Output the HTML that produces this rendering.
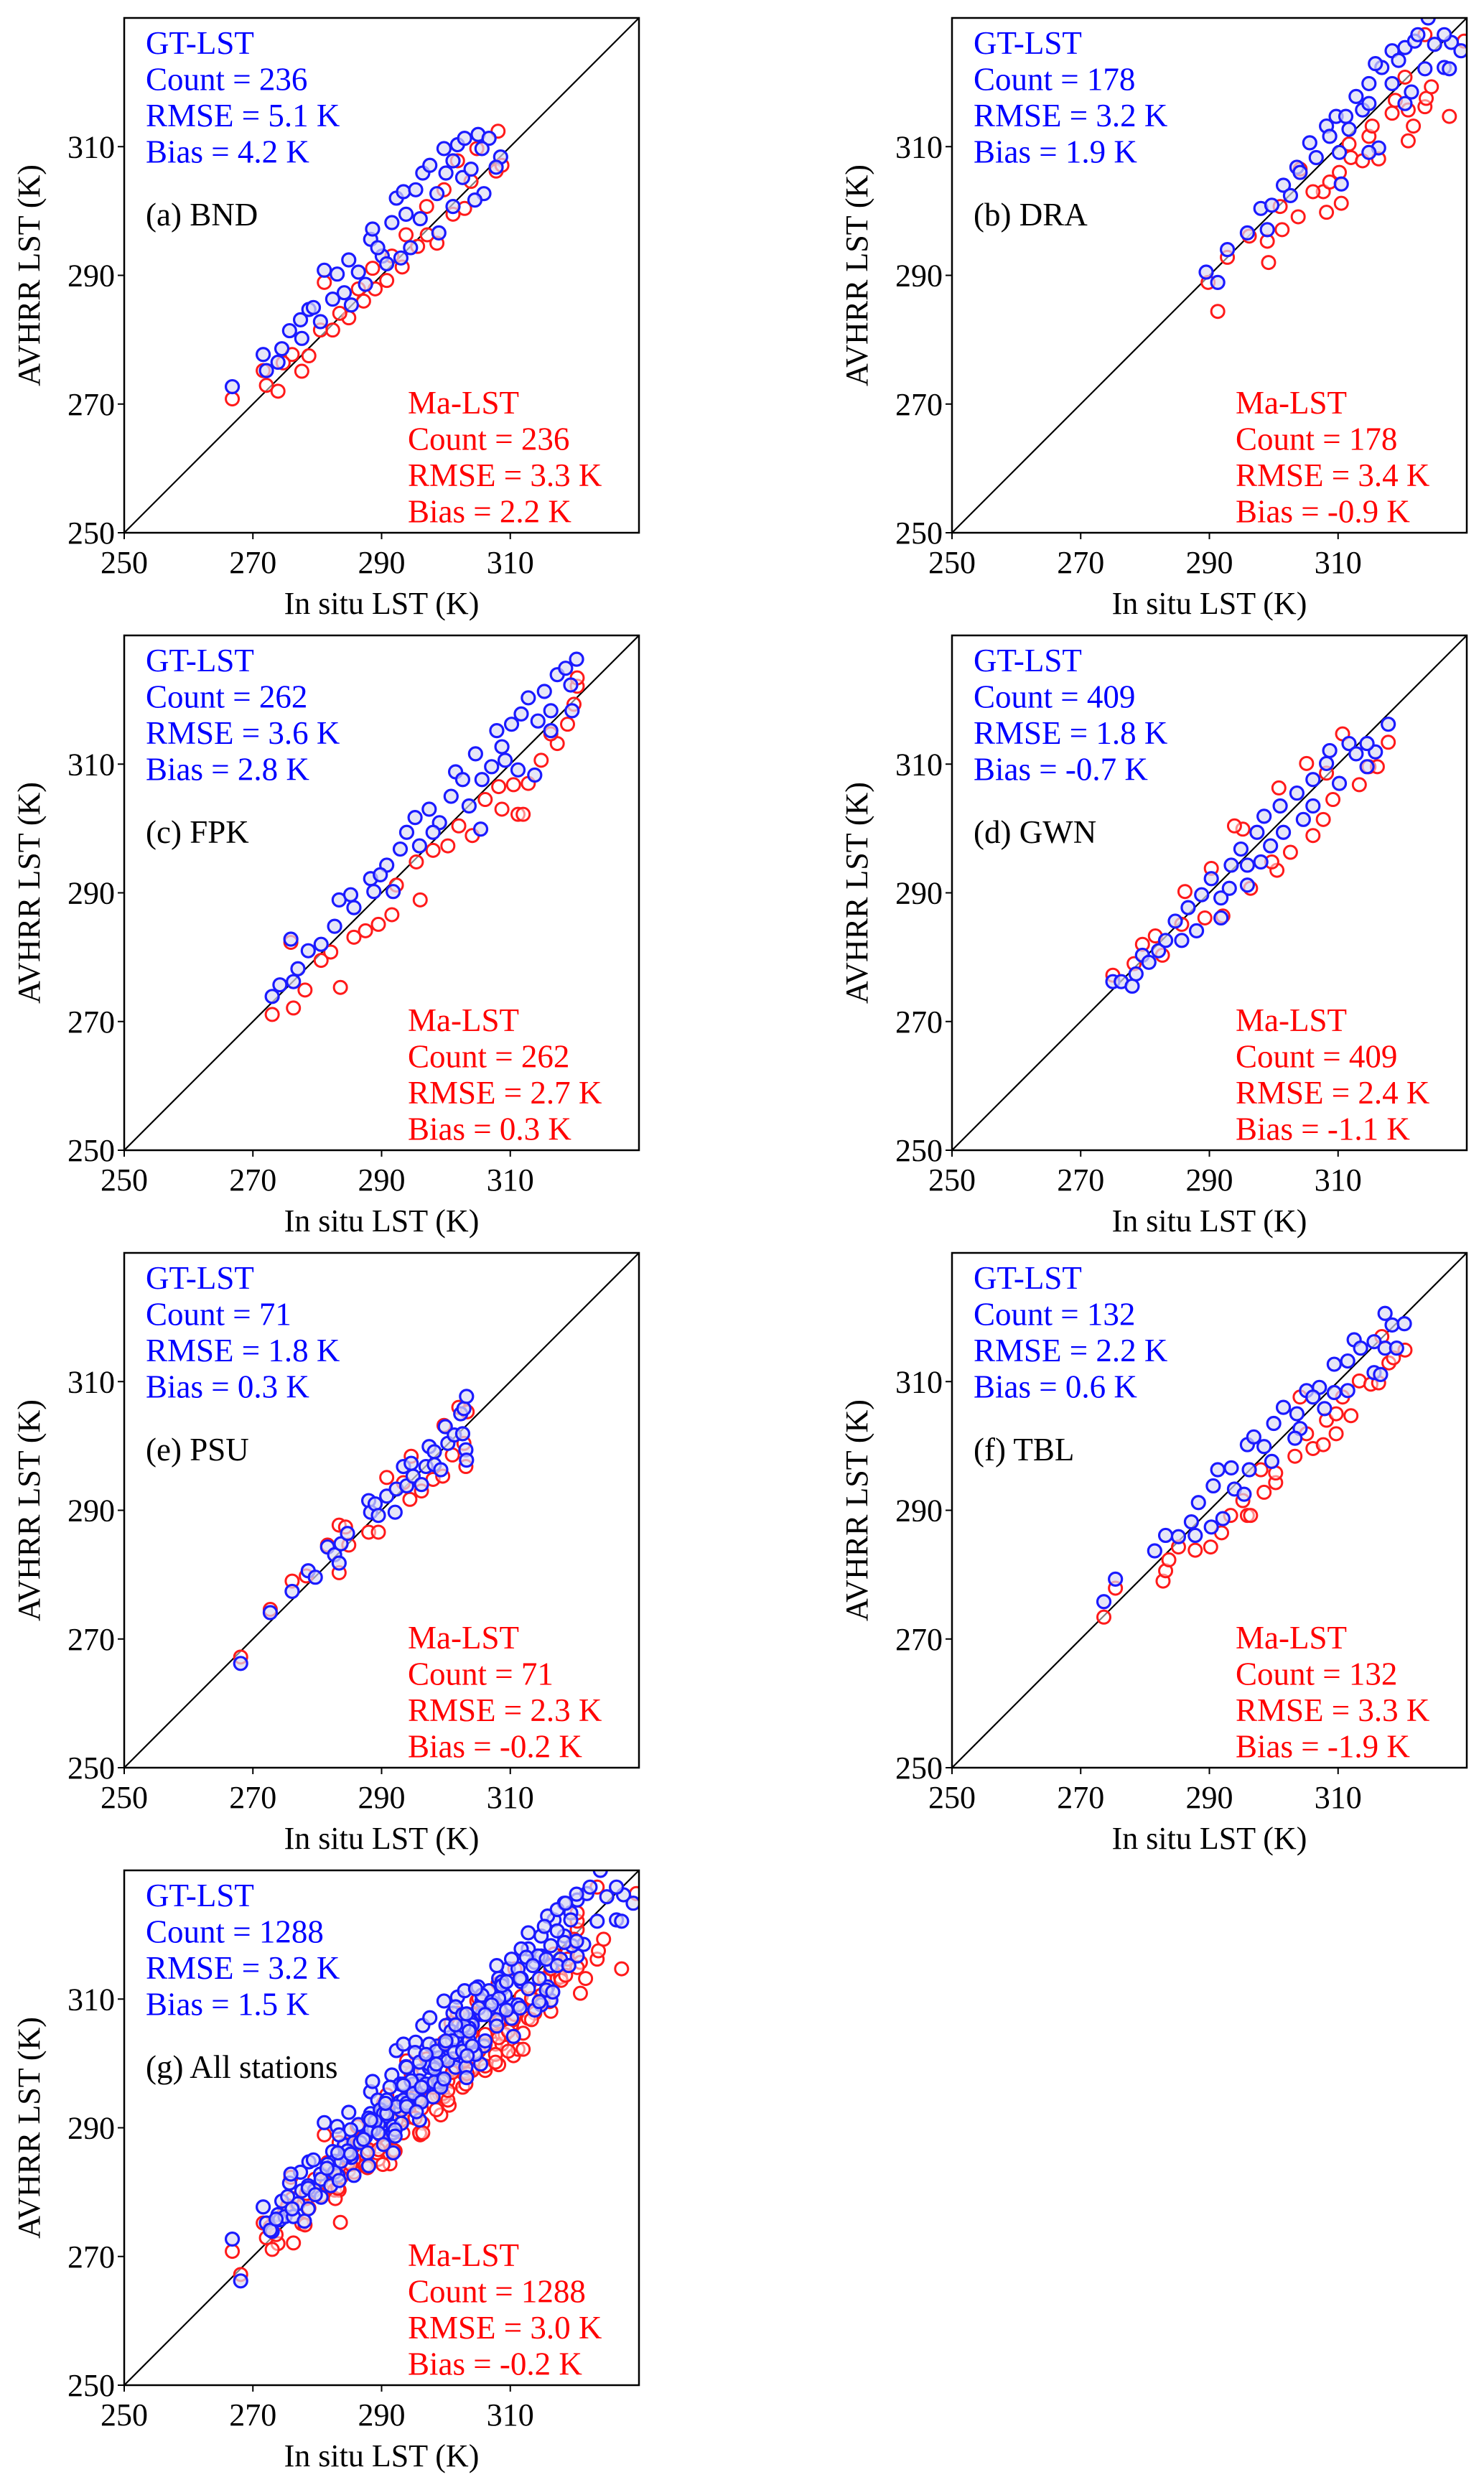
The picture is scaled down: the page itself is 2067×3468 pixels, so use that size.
<!DOCTYPE html>
<html><head><meta charset="utf-8">
<style>
html,body{margin:0;padding:0;background:#fff;}
svg{display:block;font-family:"Liberation Serif","DejaVu Serif",serif;}
svg text{font-family:"Liberation Serif","DejaVu Serif",serif;}
</style></head>
<body>
<svg id="fig" width="2067" height="3468" viewBox="0 0 2067 3468" xmlns="http://www.w3.org/2000/svg" font-family="Liberation Serif, DejaVu Serif, serif"></svg>
<script>
// ---- data (in situ LST, AVHRR LST) in K ----
const bndGT=[[266.8,272.7],[271.6,277.7],[272.1,275.2],[274.5,278.6],[273.9,276.5],[275.7,281.4],[277.4,283.1],[278.7,284.7],[279.4,285.0],[281.1,290.8],[277.6,280.2],[280.5,282.8],[283.1,290.2],[282.4,286.3],[284.9,292.4],[284.2,287.3],[285.3,285.4],[286.4,290.5],[287.5,288.6],[288.3,295.6],[288.6,297.2],[290.1,293.0],[291.6,298.2],[292.3,302.0],[293.4,303.0],[293.0,292.7],[293.8,299.5],[295.3,303.3],[296.4,305.9],[297.5,307.1],[299.7,309.7],[298.6,302.7],[300.0,305.9],[301.1,307.8],[301.8,310.3],[302.9,311.3],[305.0,311.9],[306.7,311.3],[305.6,309.7],[308.5,308.4],[307.8,306.8],[305.9,302.7],[304.5,301.7],[302.6,305.2],[298.9,296.6],[296.0,298.8],[294.5,294.3],[290.8,291.8],[289.4,294.3],[301.1,300.7],[303.9,306.5]];
const bndMa=[[266.8,270.8],[271.6,275.2],[272.1,272.9],[273.9,272.0],[277.6,275.1],[278.7,277.5],[281.1,288.9],[276.1,277.7],[282.4,281.5],[284.9,283.4],[287.2,286.0],[289.0,287.9],[290.8,289.2],[293.2,291.3],[295.6,294.5],[298.6,295.0],[297.1,296.3],[301.1,299.5],[302.9,300.4],[303.9,304.6],[307.8,306.2],[308.7,307.1],[308.1,312.4],[304.8,309.7],[301.8,307.8],[299.7,303.3],[297.0,300.7],[293.8,296.3],[291.6,293.0],[288.6,291.1],[286.4,287.9],[283.5,284.1],[280.5,281.5],[274.7,276.4]];
const draGT=[[289.5,290.5],[291.3,288.9],[292.8,294.0],[295.9,296.6],[298.0,300.4],[299.0,297.1],[299.7,300.9],[301.5,304.0],[303.6,306.8],[305.6,310.6],[308.2,313.2],[310.2,309.1],[310.5,304.2],[309.7,314.7],[312.8,317.8],[314.8,319.8],[316.3,309.8],[314.8,309.1],[316.8,322.3],[318.4,324.9],[319.4,323.4],[320.4,325.4],[321.9,326.4],[322.4,327.4],[324.0,330.0],[325.0,325.9],[326.5,322.3],[327.3,322.1],[327.6,326.2],[329.1,324.9],[326.5,327.4],[323.5,322.1],[320.4,316.7],[321.4,318.5],[311.7,312.7],[313.8,315.7],[306.6,308.3],[304.1,306.0],[302.6,302.4],[308.7,311.6],[311.2,314.7],[315.8,322.9],[318.4,319.8],[314.8,316.7]];
const draMa=[[289.8,288.9],[291.3,284.4],[292.8,292.8],[296.2,296.1],[299.2,292.0],[299.0,295.3],[301.3,297.1],[303.8,299.1],[308.2,299.8],[310.5,301.2],[307.7,303.0],[306.1,303.0],[308.7,304.5],[310.2,306.0],[312.0,308.3],[313.8,307.8],[316.3,308.1],[314.8,311.6],[315.3,313.2],[318.4,315.2],[320.9,310.9],[321.7,313.2],[323.5,316.2],[323.7,317.5],[327.3,314.7],[324.5,319.3],[320.9,315.7],[320.4,320.8],[323.5,327.4],[329.6,326.4],[318.9,317.2],[311.7,310.4],[304.1,306.5],[301.0,300.7]];
const fpkGT=[[273.0,273.9],[274.2,275.7],[276.3,276.2],[275.9,282.8],[277.0,278.2],[278.6,281.0],[280.6,282.0],[282.7,284.8],[283.4,288.9],[285.2,289.7],[285.7,287.7],[288.3,292.2],[288.8,290.2],[290.8,294.3],[291.8,290.2],[292.9,296.8],[293.9,299.4],[295.2,301.7],[295.9,297.3],[297.4,303.0],[299.0,300.9],[300.8,305.0],[301.5,308.8],[303.6,303.5],[304.6,311.6],[305.6,307.6],[305.4,299.9],[307.9,315.2],[309.2,310.6],[310.2,316.2],[311.2,309.1],[311.7,317.8],[312.8,320.3],[313.8,308.3],[314.3,316.7],[315.3,321.3],[316.3,318.3],[317.3,323.9],[318.6,324.9],[319.4,322.3],[320.3,326.3],[319.6,318.3],[316.3,315.2],[308.7,312.7],[307.1,309.6],[302.6,307.6],[298.0,299.4],[289.8,292.8]];
const fpkMa=[[273.0,271.1],[276.3,272.1],[275.9,282.3],[278.1,274.9],[283.6,275.3],[280.6,279.5],[282.1,280.8],[285.7,283.1],[287.5,284.1],[289.5,285.1],[291.6,286.6],[292.3,291.2],[296.0,288.9],[295.4,294.8],[298.0,296.6],[300.3,297.3],[302.0,300.4],[304.1,298.9],[306.1,304.5],[308.7,303.0],[311.2,302.2],[312.0,302.2],[310.5,306.8],[312.8,307.0],[314.8,310.6],[317.3,313.2],[318.9,316.2],[319.9,319.3],[320.4,322.1],[320.4,323.4],[316.3,314.7],[308.2,306.5]];
const gwnGT=[[275.0,276.2],[276.3,276.2],[278.0,275.5],[278.6,277.4],[279.6,280.3],[280.6,279.2],[282.1,281.0],[283.2,282.6],[284.7,285.6],[285.7,282.6],[286.7,287.7],[288.0,284.1],[288.8,289.7],[290.3,292.2],[291.8,289.2],[293.4,294.3],[293.1,290.7],[294.9,296.8],[295.9,294.3],[297.4,299.4],[298.5,301.9],[299.5,297.3],[301.0,303.5],[301.5,299.4],[303.6,305.5],[304.6,301.4],[306.1,307.6],[308.2,310.1],[308.7,312.1],[310.2,307.0],[311.7,313.2],[312.8,311.6],[314.5,309.6],[315.8,311.9],[317.8,316.2],[314.5,313.2],[306.1,303.5],[295.9,291.2],[291.8,286.1],[298.0,294.8]];
const gwnMa=[[275.0,277.2],[278.3,279.0],[279.6,282.0],[281.6,283.3],[282.7,280.3],[285.7,285.1],[286.2,290.2],[289.3,286.1],[292.1,286.4],[290.3,293.8],[295.2,299.9],[296.4,290.7],[300.5,293.5],[299.7,294.8],[302.6,296.3],[300.8,306.3],[306.1,298.9],[305.1,310.1],[307.7,301.4],[309.2,304.5],[310.7,314.7],[313.3,306.8],[314.8,309.6],[316.1,309.6],[317.8,313.4],[308.2,308.6],[293.9,300.4]];
const psuGT=[[268.1,266.2],[272.7,274.1],[276.1,277.4],[278.6,280.6],[279.7,279.6],[281.6,284.3],[282.7,283.1],[283.4,281.8],[283.7,284.8],[284.7,286.4],[288.0,291.5],[288.3,289.7],[289.0,291.0],[289.5,289.2],[290.8,292.2],[292.1,289.7],[292.3,293.3],[293.4,296.8],[293.9,293.8],[294.6,297.3],[294.9,295.3],[296.2,294.0],[296.9,296.8],[297.4,299.9],[298.2,299.1],[298.2,297.1],[299.2,296.3],[299.9,303.0],[300.3,300.4],[301.3,301.7],[302.6,301.9],[303.1,299.4],[303.2,297.8],[302.3,305.0],[302.8,305.8],[303.2,307.7]];
const psuMa=[[268.1,267.2],[272.7,274.6],[276.1,279.0],[278.3,279.8],[281.6,284.6],[283.4,287.7],[284.4,287.4],[283.4,280.3],[284.9,284.6],[288.0,286.6],[289.5,286.6],[290.8,295.1],[294.4,291.7],[294.6,298.4],[296.2,293.0],[298.0,294.8],[299.5,295.3],[299.7,303.2],[301.0,298.6],[302.0,306.0],[303.3,305.3],[303.1,296.8],[302.8,300.4],[293.4,294.3]];
const tblGT=[[273.6,275.8],[275.4,279.3],[281.5,283.7],[283.2,286.1],[285.2,285.9],[287.2,288.2],[287.8,286.1],[288.3,291.2],[290.3,287.4],[292.1,288.7],[290.6,293.8],[291.3,296.3],[293.4,296.6],[293.9,293.3],[295.4,292.5],[296.2,296.3],[295.9,300.2],[296.9,301.4],[298.5,299.9],[299.7,297.6],[300.0,303.5],[301.5,306.0],[303.6,305.0],[304.1,302.7],[303.3,301.2],[305.1,308.6],[307.1,309.1],[307.9,305.8],[309.4,308.3],[309.4,312.7],[311.5,313.2],[311.5,308.6],[312.5,316.5],[313.5,315.2],[315.6,316.2],[315.6,311.4],[316.6,311.1],[317.3,315.2],[317.3,320.6],[318.4,318.8],[320.3,319.0],[319.1,315.2],[306.1,307.6]];
const tblMa=[[273.6,273.4],[275.4,277.9],[282.8,279.0],[283.2,280.6],[283.7,282.3],[285.2,284.3],[287.8,283.8],[290.2,284.3],[291.9,286.5],[293.3,289.2],[295.9,289.2],[296.4,289.2],[295.2,291.5],[298.5,292.8],[298.0,296.3],[300.3,294.3],[300.3,295.8],[303.3,298.4],[306.1,299.6],[307.7,300.2],[305.1,301.9],[309.7,301.9],[308.2,304.0],[312.0,304.7],[309.7,305.0],[310.7,307.6],[313.3,310.1],[315.1,309.6],[316.3,309.8],[317.9,312.9],[320.4,314.9],[318.6,313.7],[316.8,317.0],[304.1,307.6]];
const allGT=[].concat(bndGT,draGT,fpkGT,gwnGT,psuGT,tblGT);
const allMa=[].concat(bndMa,draMa,fpkMa,gwnMa,psuMa,tblMa);
const tickValues=[250,270,290,310];
const axisMin=250, axisMax=330;
const gtStats=[["236","5.1","4.2"],["178","3.2","1.9"],["262","3.6","2.8"],["409","1.8","-0.7"],["71","1.8","0.3"],["132","2.2","0.6"],["1288","3.2","1.5"]];
const maStats=[["236","3.3","2.2"],["178","3.4","-0.9"],["262","2.7","0.3"],["409","2.4","-1.1"],["71","2.3","-0.2"],["132","3.3","-1.9"],["1288","3.0","-0.2"]];
const panelTitles=["(a) BND","(b) DRA","(c) FPK","(d) GWN","(e) PSU","(f) TBL","(g) All stations"];
const gtSeries=[bndGT,draGT,fpkGT,gwnGT,psuGT,tblGT,allGT];
const maSeries=[bndMa,draMa,fpkMa,gwnMa,psuMa,tblMa,allMa];

// ---- layout ----
const NS="http://www.w3.org/2000/svg";
const FONT='"Liberation Serif", "DejaVu Serif", serif';
const svg=document.getElementById('fig');
const S=717, colX=[173,1326], rowY=[25,885,1745,2605];
function mk(tag,attrs,parent){const e=document.createElementNS(NS,tag);for(const k in attrs)e.setAttribute(k,attrs[k]);(parent||svg).appendChild(e);return e;}
function txt(parent,x,y,s,attrs){const t=mk('text',Object.assign({x:x,y:y,'font-family':FONT},attrs||{}),parent);t.style.fontFamily=FONT;t.textContent=s;return t;}

for(let i=0;i<7;i++){
  const px=colX[i%2], py=rowY[Math.floor(i/2)];
  const sx=v=>px+(v-axisMin)/(axisMax-axisMin)*S;
  const sy=v=>py+S-(v-axisMin)/(axisMax-axisMin)*S;
  const g=mk('g',{});
  
  
  mk('rect',{x:px,y:py,width:S,height:S,fill:'#fff'},g);
  const clip=mk('clipPath',{id:'c'+i},g);
  mk('rect',{x:px,y:py,width:S,height:S},clip);
  const marks=mk('g',{'clip-path':'url(#c'+i+')'},g);
  const one=mk('line',{x1:sx(axisMin),y1:sy(axisMin),x2:sx(axisMax),y2:sy(axisMax),stroke:'#000','stroke-width':2.2},marks);
  
  
  const redG=mk('g',{},marks);
  
  
  maSeries[i].forEach(p=>{
    const c=mk('circle',{cx:sx(p[0]),cy:sy(p[1]),r:9,fill:'#fff','fill-opacity':0.5,stroke:'#ff1a1a','stroke-width':3},redG);
    
    
  });
  const blueG=mk('g',{},marks);
  
  
  gtSeries[i].forEach(p=>{
    const c=mk('circle',{cx:sx(p[0]),cy:sy(p[1]),r:9,fill:'#dcdcf4','fill-opacity':0.7,stroke:'#1a1aff','stroke-width':3.2},blueG);
    
    
  });
  const fr=mk('rect',{x:px,y:py,width:S,height:S,fill:'none',stroke:'#000','stroke-width':2.5},g);
  
  
  tickValues.forEach(v=>{
    mk('line',{x1:sx(v),y1:py+S,x2:sx(v),y2:py+S+9,stroke:'#000','stroke-width':2},g);
    mk('line',{x1:px,y1:sy(v),x2:px-9,y2:sy(v),stroke:'#000','stroke-width':2},g);
    const xt=txt(g,sx(v),py+S+56,String(v),{'font-size':44,'text-anchor':'middle',fill:'#000'});
    
    
    const yt=txt(g,px-13,sy(v)+15,String(v),{'font-size':44,'text-anchor':'end',fill:'#000'});
    
    
  });
  const xl=txt(g,px+S/2,py+S+113,'In situ LST (K)',{'font-size':44,'text-anchor':'middle',fill:'#000'});
  
  
  const yx=px-118, yy=py+S/2;
  const yl=txt(g,yx,yy,'AVHRR LST (K)',{'font-size':44,'text-anchor':'middle',fill:'#000',transform:'rotate(-90 '+yx+' '+yy+')'});
  
  
  const gs=gtStats[i], ms=maStats[i];
  const gtLines=['GT-LST','Count = '+gs[0],'RMSE = '+gs[1]+' K','Bias = '+gs[2]+' K'];
  const maLines=['Ma-LST','Count = '+ms[0],'RMSE = '+ms[1]+' K','Bias = '+ms[2]+' K'];
  const gtBox=mk('g',{},g);
  
  
  gtLines.forEach((s,k)=>txt(gtBox,px+30,py+50+k*50.5,s,{'font-size':45,fill:'#0000ff'}));
  const maBox=mk('g',{},g);
  
  
  maLines.forEach((s,k)=>txt(maBox,px+395,py+551+k*50.5,s,{'font-size':45,fill:'#ff0000'}));
  const pt=txt(g,px+30,py+289,panelTitles[i],{'font-size':45,fill:'#000'});
  
  
}
</script>
</body></html>
